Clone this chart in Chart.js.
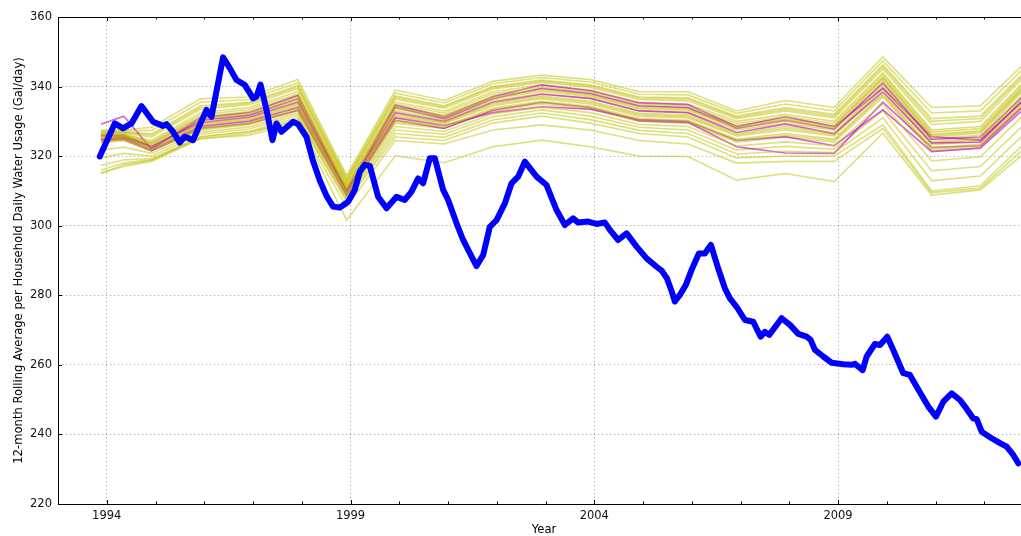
<!DOCTYPE html>
<html><head><meta charset="utf-8">
<script src="https://cdn.jsdelivr.net/npm/chart.js@4.4.1/dist/chart.umd.min.js"></script>
<style>html,body{margin:0;padding:0;background:#fff;overflow:hidden}</style>
</head><body>
<canvas id="c" width="1021" height="536"></canvas>
<script>
// ---------- DATA ----------
const xLabelText = 'Year';
const yLabelText = '12-month Rolling Average per Household Daily Water Usage (Gal/day)';
const majorYears = [1994, 1999, 2004, 2009];
const yTicks = [220, 240, 260, 280, 300, 320, 340, 360];

// x positions (years) of projection points
const kinkYears = [1993.88, 1994.35, 1994.92, 1995.92, 1996.92, 1997.92, 1998.92, 1999.92, 2000.92, 2001.92, 2002.92, 2003.92, 2004.92, 2005.92, 2006.92, 2007.92, 2008.92, 2009.92, 2010.92, 2011.92, 2012.92];

// yellow projection lines
const yel00 = [327.5, 327.5, 328.3, 336.5, 337.0, 342.0, 314.5, 339.0, 336.0, 341.5, 343.3, 342.0, 338.5, 338.5, 333.0, 336.0, 334.0, 348.5, 334.0, 334.5, 348.0];
const yel01 = [327.2, 327.2, 327.4, 335.5, 336.3, 341.1, 313.9, 338.1, 335.3, 340.8, 342.6, 341.3, 337.8, 337.6, 332.3, 335.0, 333.0, 347.4, 332.4, 333.0, 346.8];
const yel02 = [326.9, 326.9, 326.4, 334.5, 335.5, 340.3, 313.3, 337.3, 334.5, 340.0, 341.9, 340.5, 337.0, 336.8, 331.5, 334.0, 332.0, 346.3, 330.8, 331.5, 345.5];
const yel03 = [326.6, 326.6, 325.5, 333.5, 334.8, 339.4, 312.6, 336.4, 333.8, 339.3, 341.2, 339.8, 336.3, 335.9, 330.8, 333.0, 331.0, 345.1, 329.1, 330.0, 344.3];
const yel04 = [326.3, 326.3, 324.5, 332.5, 334.0, 338.5, 312.0, 335.5, 333.0, 338.5, 340.5, 339.0, 335.5, 335.0, 330.0, 332.0, 330.0, 344.0, 327.5, 328.5, 343.0];
const yel05 = [326.1, 326.1, 324.1, 331.9, 333.4, 337.9, 311.6, 334.9, 332.4, 337.9, 339.9, 338.4, 334.9, 334.4, 329.4, 331.4, 329.4, 343.4, 326.9, 327.9, 342.4];
const yel06 = [325.8, 325.9, 323.8, 331.3, 332.8, 337.3, 311.3, 334.3, 331.8, 337.3, 339.3, 337.8, 334.3, 333.8, 328.8, 330.8, 328.8, 342.8, 326.3, 327.3, 341.8];
const yel07 = [325.6, 325.7, 323.4, 330.6, 332.1, 336.6, 310.9, 333.6, 331.1, 336.6, 338.6, 337.1, 333.6, 333.1, 328.1, 330.1, 328.1, 342.1, 325.6, 326.6, 341.1];
const yel08 = [325.3, 325.5, 323.0, 330.0, 331.5, 336.0, 310.5, 333.0, 330.5, 336.0, 338.0, 336.5, 333.0, 332.5, 327.5, 329.5, 327.5, 341.5, 325.0, 326.0, 340.5];
const yel09 = [324.9, 325.3, 322.6, 329.4, 330.9, 335.3, 310.1, 332.1, 329.9, 335.3, 337.3, 335.8, 332.3, 331.8, 326.6, 328.5, 326.6, 340.4, 324.1, 325.1, 339.4];
const yel10 = [324.6, 325.0, 322.3, 328.8, 330.3, 334.5, 309.8, 331.3, 329.3, 334.5, 336.5, 335.0, 331.5, 331.0, 325.8, 327.5, 325.8, 339.3, 323.3, 324.3, 338.3];
const yel11 = [324.2, 324.8, 321.9, 328.1, 329.6, 333.8, 309.4, 330.4, 328.6, 333.8, 335.8, 334.3, 330.8, 330.3, 324.9, 326.5, 324.9, 338.1, 322.4, 323.4, 337.1];
const yel12 = [323.8, 324.5, 321.5, 327.5, 329.0, 333.0, 309.0, 329.5, 328.0, 333.0, 335.0, 333.5, 330.0, 329.5, 324.0, 325.5, 324.0, 337.0, 321.5, 322.5, 336.0];
const yel13 = [321.7, 322.6, 320.8, 326.9, 328.4, 332.4, 308.5, 328.5, 327.1, 332.1, 334.1, 332.5, 329.1, 328.5, 322.9, 324.1, 323.0, 335.0, 318.6, 319.8, 333.3];
const yel14 = [319.5, 320.8, 320.0, 326.3, 327.8, 331.8, 308.0, 327.5, 326.3, 331.3, 333.3, 331.5, 328.3, 327.5, 321.8, 322.8, 322.0, 333.0, 315.8, 317.0, 330.5];
const yel15 = [317.4, 318.9, 319.3, 325.6, 327.1, 331.1, 307.5, 326.5, 325.4, 330.4, 332.4, 330.5, 327.4, 326.5, 320.6, 321.4, 321.0, 331.0, 312.9, 314.3, 327.8];
const yel16 = [315.2, 317.0, 318.5, 325.0, 326.5, 330.5, 307.0, 325.5, 324.5, 329.5, 331.5, 329.5, 326.5, 325.5, 319.5, 320.0, 320.0, 329.0, 310.0, 311.5, 325.0];
const yel17 = [316.0, 318.0, 319.0, 325.0, 326.0, 329.5, 305.5, 324.5, 323.5, 327.5, 329.0, 327.5, 324.5, 323.5, 318.0, 318.5, 318.5, 328.0, 309.5, 310.8, 323.5];
const yel18 = [315.0, 317.5, 318.8, 325.5, 327.0, 330.0, 301.6, 320.1, 318.1, 322.7, 324.6, 322.7, 320.0, 319.9, 313.1, 315.0, 312.7, 326.6, 308.8, 310.3, 322.0];
const yel19 = [326.8, 326.8, 326.0, 334.0, 335.2, 339.9, 313.0, 336.9, 334.2, 339.7, 341.6, 340.2, 336.7, 336.4, 331.2, 333.5, 331.5, 345.7, 330.0, 330.8, 344.9];
const yel20 = [325.7, 325.8, 323.6, 331.0, 332.5, 337.0, 311.1, 334.0, 331.5, 337.0, 339.0, 337.5, 334.0, 333.5, 328.5, 330.5, 328.5, 342.5, 326.0, 327.0, 341.5];
const yel21 = [324.8, 325.2, 322.5, 329.1, 330.6, 334.9, 310.0, 331.7, 329.6, 334.9, 336.9, 335.4, 331.9, 331.4, 326.2, 328.0, 326.2, 339.9, 323.7, 324.7, 338.9];
const yel22 = [324.0, 324.7, 321.7, 327.8, 329.3, 333.4, 309.2, 330.0, 328.3, 333.4, 335.4, 333.9, 330.4, 329.9, 324.5, 326.0, 324.5, 337.6, 322.0, 323.0, 336.6];

// magenta projection lines
const mag1 = [329.2, 331.5, 322.0, 331.0, 332.5, 337.5, 310.0, 334.7, 331.3, 337.1, 340.5, 338.8, 335.3, 334.8, 328.5, 331.3, 328.5, 339.5, 325.6, 324.6, 337.5];
const mag2 = [326.0, 326.0, 322.5, 330.3, 331.8, 336.5, 309.8, 334.0, 330.8, 336.5, 339.5, 338.0, 334.5, 334.0, 328.0, 330.3, 327.8, 341.0, 324.8, 325.5, 339.0];
const mag3 = [325.0, 325.2, 321.8, 328.5, 330.0, 334.0, 309.2, 331.0, 328.8, 332.5, 334.2, 333.5, 330.5, 330.0, 324.5, 325.6, 323.0, 333.3, 321.3, 322.3, 335.0];
const mag4 = [324.6, 324.8, 321.5, 328.0, 329.4, 333.2, 308.7, 330.3, 328.0, 333.2, 335.5, 334.0, 330.2, 329.7, 322.7, 320.9, 320.8, 335.5, 322.5, 323.0, 336.0];
const mag5 = [325.8, 325.6, 322.8, 329.6, 331.2, 335.5, 309.9, 332.5, 330.0, 335.5, 337.8, 336.6, 333.0, 332.5, 326.8, 329.2, 326.5, 338.5, 323.8, 324.0, 337.8];

// observed series (blue)
const blueYears = [1993.856, 1994.164, 1994.334, 1994.507, 1994.712, 1994.950, 1995.155, 1995.225, 1995.360, 1995.498, 1995.600, 1995.771, 1995.908, 1996.046, 1996.148, 1996.386, 1996.524, 1996.661, 1996.831, 1997.002, 1997.071, 1997.154, 1997.277, 1997.400, 1997.482, 1997.584, 1997.822, 1997.925, 1998.097, 1998.233, 1998.370, 1998.510, 1998.643, 1998.780, 1998.951, 1999.088, 1999.191, 1999.293, 1999.396, 1999.566, 1999.739, 1999.944, 2000.114, 2000.252, 2000.387, 2000.490, 2000.627, 2000.730, 2000.900, 2001.003, 2001.175, 2001.310, 2001.448, 2001.585, 2001.721, 2001.858, 2001.995, 2002.166, 2002.303, 2002.439, 2002.576, 2002.816, 2003.021, 2003.226, 2003.397, 2003.567, 2003.670, 2003.875, 2004.047, 2004.218, 2004.320, 2004.490, 2004.663, 2004.868, 2005.073, 2005.278, 2005.387, 2005.489, 2005.592, 2005.653, 2005.756, 2005.879, 2006.002, 2006.145, 2006.268, 2006.392, 2006.535, 2006.679, 2006.782, 2006.919, 2007.090, 2007.260, 2007.412, 2007.500, 2007.588, 2007.843, 2008.013, 2008.184, 2008.356, 2008.438, 2008.526, 2008.697, 2008.869, 2009.107, 2009.279, 2009.347, 2009.505, 2009.587, 2009.757, 2009.860, 2010.010, 2010.133, 2010.338, 2010.475, 2010.613, 2010.851, 2011.009, 2011.159, 2011.331, 2011.501, 2011.603, 2011.774, 2011.844, 2011.946, 2012.151, 2012.322, 2012.459, 2012.595, 2012.697];
const blueValues = [319.9, 329.4, 328.0, 329.4, 334.4, 329.9, 328.7, 329.2, 327.0, 323.9, 325.6, 324.6, 329.0, 333.3, 331.3, 348.4, 345.3, 341.9, 340.5, 336.6, 337.1, 340.6, 333.3, 324.6, 329.4, 327.0, 329.9, 329.2, 325.5, 318.5, 313.0, 308.5, 305.5, 305.2, 306.9, 310.3, 315.5, 317.5, 317.2, 308.3, 305.0, 308.3, 307.4, 309.8, 313.6, 312.2, 319.4, 319.4, 310.3, 307.4, 300.7, 295.9, 292.1, 288.4, 291.6, 299.7, 301.6, 306.4, 312.2, 314.1, 318.4, 314.1, 311.7, 304.5, 300.2, 302.1, 300.9, 301.2, 300.5, 300.9, 298.8, 295.9, 297.8, 294.0, 290.6, 288.2, 287.0, 284.9, 281.0, 278.2, 280.1, 283.0, 287.5, 292.0, 292.0, 294.5, 288.0, 282.0, 279.1, 276.7, 272.9, 272.4, 268.1, 269.5, 268.6, 273.4, 271.5, 268.9, 268.1, 267.2, 264.3, 262.4, 260.6, 260.2, 260.0, 260.3, 258.5, 262.4, 266.0, 265.7, 268.1, 264.3, 257.6, 257.1, 253.7, 248.0, 245.1, 249.4, 251.8, 249.9, 248.0, 244.6, 244.4, 240.8, 238.9, 237.5, 236.5, 234.1, 231.7];

// ---------- BUILD ----------
const yellowTop = [yel01, yel03, yel05, yel07, yel09, yel11, yel13, yel15, yel17, yel20, yel22];
const yellowBottom = [yel00, yel02, yel04, yel06, yel08, yel10, yel12, yel14, yel16, yel18, yel19, yel21];
const magentaSeries = [mag1, mag2, mag3, mag4, mag5];

const YEL = 'rgba(191,191,0,0.5)';
const MAG = 'rgba(191,0,191,0.62)';
const toPts = (xs, ys) => xs.map((x, i) => ({x: x, y: ys[i]}));
const lineDs = (s, col) => ({data: toPts(kinkYears, s), borderColor: col, borderWidth: 1.6,
  pointRadius: 0, tension: 0, fill: false});
const datasets = [];
// index 0 is drawn last (on top)
datasets.push({data: toPts(blueYears, blueValues), borderColor: '#0000ff', borderWidth: 6,
  pointRadius: 0, tension: 0, borderJoinStyle: 'round', borderCapStyle: 'round', fill: false});
yellowTop.forEach(s => datasets.push(lineDs(s, YEL)));
magentaSeries.forEach(s => datasets.push(lineDs(s, MAG)));
yellowBottom.forEach(s => datasets.push(lineDs(s, YEL)));

const FONT = 'DejaVu Sans';
const allYears = [];
for (let y = 1993; y <= 2012; y++) allYears.push(y);

const framePlugin = {
  id: 'frame',
  afterDraw(chart) {
    const {ctx, chartArea: a, scales: {x, y}} = chart;
    ctx.save();
    ctx.strokeStyle = '#000';
    ctx.lineWidth = 1;
    ctx.beginPath();
    ctx.moveTo(a.left + 0.5, a.top + 0.5); ctx.lineTo(a.right + 2, a.top + 0.5);
    ctx.moveTo(a.left + 0.5, a.top + 0.5); ctx.lineTo(a.left + 0.5, a.bottom + 0.5);
    ctx.moveTo(a.left + 0.5, a.bottom + 0.5); ctx.lineTo(a.right + 2, a.bottom + 0.5);
    allYears.forEach(yr => {
      const px = Math.round(x.getPixelForValue(yr)) + 0.5;
      const len = majorYears.includes(yr) ? 4 : 2.5;
      ctx.moveTo(px, a.bottom); ctx.lineTo(px, a.bottom - len);
      ctx.moveTo(px, a.top); ctx.lineTo(px, a.top + len);
    });
    yTicks.forEach(v => {
      const py = Math.round(y.getPixelForValue(v)) + 0.5;
      ctx.moveTo(a.left, py); ctx.lineTo(a.left + 4, py);
    });
    ctx.stroke();
    ctx.fillStyle = '#000';
    ctx.textAlign = 'center';
    ctx.textBaseline = 'middle';
    ctx.font = '11.5px "' + FONT + '"';
    ctx.fillText(xLabelText, 544, 530);
    ctx.font = '11.6px "' + FONT + '"';
    ctx.translate(19, (a.top + a.bottom) / 2);
    ctx.rotate(-Math.PI / 2);
    ctx.fillText(yLabelText, 0, 0);
    ctx.restore();
  }
};

new Chart(document.getElementById('c'), {
  type: 'line',
  data: {datasets},
  plugins: [framePlugin],
  options: {
    responsive: false,
    animation: false,
    devicePixelRatio: 1,
    layout: {padding: {top: 17, left: 0, right: 0, bottom: 0}},
    plugins: {legend: {display: false}, tooltip: {enabled: false}},
    scales: {
      x: {
        type: 'linear', min: 1993.0, max: 2012.753,
        afterBuildTicks: s => { s.ticks = allYears.map(v => ({value: v})); },
        afterFit: s => { s.height = 32; },
        ticks: {autoSkip: false, maxRotation: 0, padding: 5, color: '#111',
          font: {family: FONT, size: 11.5},
          callback: v => majorYears.includes(v) ? String(v) : ''},
        grid: {drawTicks: false, lineWidth: 1,
          color: c => (c.tick && majorYears.includes(c.tick.value)) ? 'rgba(0,0,0,0.35)' : 'rgba(0,0,0,0)'},
        border: {display: false, dash: [1.2, 2.8]}
      },
      y: {
        type: 'linear', min: 220, max: 360,
        afterBuildTicks: s => { s.ticks = yTicks.map(v => ({value: v})); },
        afterFit: s => { s.width = 58; },
        ticks: {padding: 6, color: '#111', font: {family: FONT, size: 11.5}},
        grid: {drawTicks: false, lineWidth: 1,
          color: c => (c.tick && c.tick.value > 220 && c.tick.value < 360) ? 'rgba(0,0,0,0.35)' : 'rgba(0,0,0,0)'},
        border: {display: false, dash: [1.2, 2.8]}
      }
    }
  }
});
</script>
</body></html>
